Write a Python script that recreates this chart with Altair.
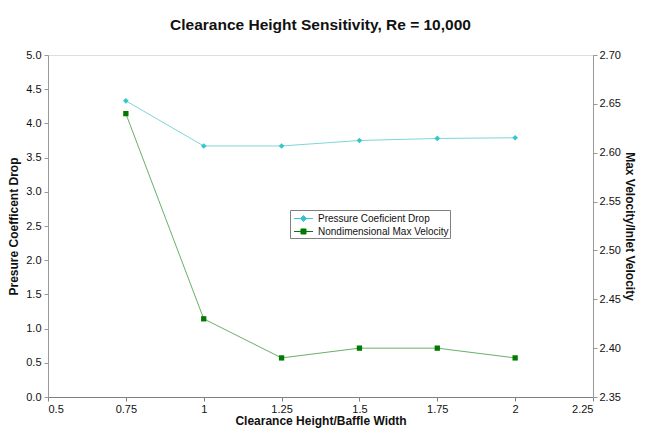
import altair as alt
import pandas as pd

x_vals = [0.75, 1.0, 1.25, 1.5, 1.75, 2.0]
pressure = [4.33, 3.67, 3.67, 3.75, 3.78, 3.79]
velocity = [2.64, 2.43, 2.39, 2.40, 2.40, 2.39]
series_names = ["Pressure Coeficient Drop", "Nondimensional Max Velocity"]
series_colors = ["#33c6cc", "#007a00"]
line_colors = ["#7fd6d8", "#6aae6a"]
x_ticks = [0.5, 0.75, 1.0, 1.25, 1.5, 1.75, 2.0, 2.25]
left_ticks = [0.0, 0.5, 1.0, 1.5, 2.0, 2.5, 3.0, 3.5, 4.0, 4.5, 5.0]
right_ticks = [2.35, 2.40, 2.45, 2.50, 2.55, 2.60, 2.65, 2.70]

df_p = pd.DataFrame({"x": x_vals, "v": pressure, "series": series_names[0]})
df_v = pd.DataFrame({"x": x_vals, "v": velocity, "series": series_names[1]})

FONT = "Liberation Sans"

xenc = alt.X("x:Q", scale=alt.Scale(domain=[0.5, 2.25], nice=False, zero=False),
             axis=alt.Axis(values=x_ticks, labelExpr="'' + datum.value",
                           title="Clearance Height/Baffle Width",
                           grid=False, domainColor="#808080", tickColor="#808080",
                           tickSize=4, labelPadding=2, titlePadding=1,
                           labelFontSize=11, titleFontSize=12, labelColor="#111",
                           titleColor="#111", labelFont=FONT, titleFont=FONT))

# legend symbols: a short line with the marker on it
legend_shapes = [
    "M-1.36,0H1.36M-0.43,0L0,-0.43L0.43,0L0,0.43ZM-0.2,0L0,-0.2L0.2,0L0,0.2Z",
    "M-1.36,0H1.36M-0.36,-0.36H0.36V0.36H-0.36ZM-0.15,-0.15H0.15V0.15H-0.15Z",
]
leg = alt.Legend(
    title=None, orient="none", legendX=242, legendY=155,
    strokeColor="#808080", fillColor="white", padding=1,
    labelFont=FONT, labelFontSize=10, labelColor="#111",
    symbolSize=196, symbolStrokeWidth=1, symbolOpacity=1, rowPadding=0,
    symbolOffset=5, labelOffset=7,
)
fill_enc = alt.Fill("series:N", scale=alt.Scale(domain=series_names, range=series_colors), legend=leg)
stroke_enc = alt.Stroke("series:N", scale=alt.Scale(domain=series_names, range=series_colors), legend=leg)
shape_enc = alt.Shape("series:N", scale=alt.Scale(domain=series_names, range=legend_shapes), legend=leg)

yl = alt.Y("v:Q", scale=alt.Scale(domain=[0, 5], nice=False),
           axis=alt.Axis(orient="left", values=left_ticks, format=".1f",
                         title="Presure Coefficent Drop", grid=False,
                         domainColor="#999999", tickColor="#999999", tickSize=4,
                         labelPadding=3, titlePadding=5, labelFontSize=11, titleFontSize=12,
                         labelColor="#111", titleColor="#111", labelFont=FONT, titleFont=FONT))
yr = alt.Y("v:Q", scale=alt.Scale(domain=[2.35, 2.70], nice=False, zero=False),
           axis=alt.Axis(orient="right", values=right_ticks, format=".2f",
                         title="Max Velocity/Inlet Velocity", grid=False,
                         domainColor="#999999", tickColor="#999999", tickSize=4,
                         labelPadding=2, titlePadding=2, labelFontSize=11, titleFontSize=12,
                         labelColor="#111", titleColor="#111", labelFont=FONT, titleFont=FONT))

line_p = alt.Chart(df_p).mark_line(strokeWidth=1, color=line_colors[0]).encode(x=xenc, y=yl)
pts_p = alt.Chart(df_p).mark_point(filled=True, shape="diamond", size=32, opacity=1,
                                   color=series_colors[0]).encode(x=xenc, y=yl)
key_p = alt.Chart(df_p).mark_point(opacity=0).encode(x=xenc, y=yl, fill=fill_enc,
                                                     stroke=stroke_enc, shape=shape_enc)
line_v = alt.Chart(df_v).mark_line(strokeWidth=1, color=line_colors[1]).encode(x=xenc, y=yr)
pts_v = alt.Chart(df_v).mark_point(filled=True, shape="square", size=28, opacity=1,
                                   color=series_colors[1]).encode(x=xenc, y=yr)
key_v = alt.Chart(df_v).mark_point(opacity=0).encode(x=xenc, y=yr, fill=fill_enc,
                                                     stroke=stroke_enc, shape=shape_enc)

left = alt.layer(line_p, pts_p, key_p)
right = alt.layer(line_v, pts_v, key_v)

chart = alt.layer(left, right).resolve_scale(y="independent").properties(
    width=545, height=342,
    autosize=alt.AutoSizeParams(type="none"),
    padding={"left": 40, "top": 47, "right": 45, "bottom": 32},
    title=alt.Title("Clearance Height Sensitivity, Re = 10,000", font=FONT, fontSize=15.5,
                    fontWeight="bold", color="#111", anchor="middle", baseline="alphabetic",
                    offset=4),
).configure_view(stroke="#c8c8c8", strokeWidth=1).configure(background="white")

chart.save("out.html", embed_options={"renderer": "svg", "actions": False})
